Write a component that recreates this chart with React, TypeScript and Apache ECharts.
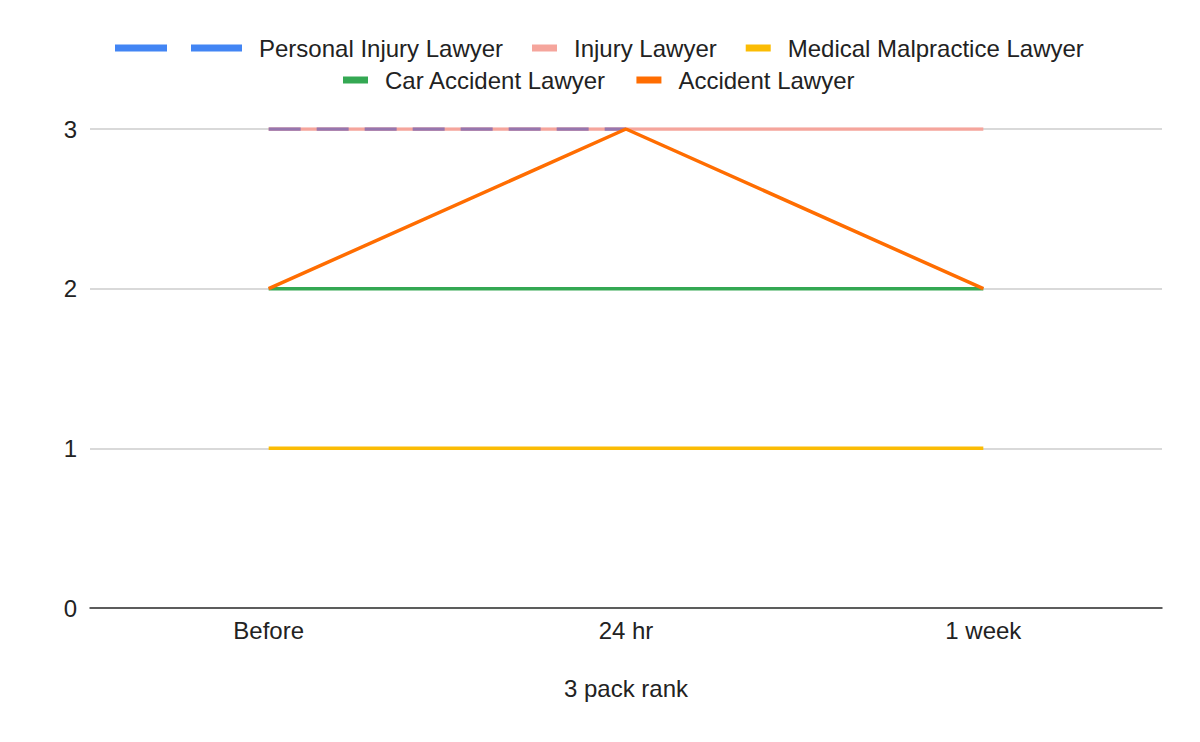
import React, { useEffect, useRef } from "react";
import * as echarts from "echarts";

const categories = ["Before", "24 hr", "1 week"];
const personalInjury = [3, 3, null];
const injury = [3, 3, 3];
const medicalMalpractice = [1, 1, 1];
const carAccident = [2, 2, 2];
const accident = [2, 3, 2];
const yTicks = [0, 1, 2, 3];

const FONT = "'Liberation Sans', Arial, sans-serif";
const TEXT = "#222222";
const LW = 3.5;

export default function App() {
  const ref = useRef<HTMLDivElement>(null);
  useEffect(() => {
    document.body.style.margin = "0";
    const chart = echarts.init(ref.current!, null, { renderer: "svg" });
    const legendText = {
      fontFamily: FONT,
      fontSize: 24,
      color: TEXT,
      lineHeight: 24,
      padding: [0, 0, 0, 12],
    };
    chart.setOption({
      animation: false,
      backgroundColor: "#ffffff",
      textStyle: { fontFamily: FONT },
      legend: [
        {
          left: 110,
          top: 31,
          itemWidth: 127,
          itemHeight: 7,
          icon: "path://M0,0h52v7h-52z M76,0h51v7h-51z",
          textStyle: legendText,
          selectedMode: false,
          data: [{ name: "Personal Injury Lawyer", itemStyle: { color: "#4285f4" } }],
        },
        {
          left: 527,
          top: 31,
          itemWidth: 25,
          itemHeight: 7,
          itemGap: 29,
          icon: "rect",
          textStyle: legendText,
          selectedMode: false,
          data: [
            { name: "Injury Lawyer", itemStyle: { color: "#f5a59c" } },
            { name: "Medical Malpractice Lawyer", itemStyle: { color: "#fbbc04" } },
          ],
        },
        {
          left: 338,
          top: 63,
          itemWidth: 25,
          itemHeight: 7,
          itemGap: 30,
          icon: "rect",
          textStyle: legendText,
          selectedMode: false,
          data: [
            { name: "Car Accident Lawyer", itemStyle: { color: "#34a853" } },
            { name: "Accident Lawyer", itemStyle: { color: "#ff6d01" } },
          ],
        },
      ],
      grid: { left: 90, right: 38, top: 129, bottom: 134, containLabel: false },
      xAxis: {
        type: "category",
        data: categories,
        boundaryGap: true,
        name: "3 pack rank",
        nameLocation: "middle",
        nameGap: 68,
        nameTextStyle: { fontFamily: FONT, fontSize: 24, color: TEXT },
        axisLine: { show: true, lineStyle: { color: "#333333", width: 1.5 } },
        axisTick: { show: false },
        axisLabel: { fontFamily: FONT, fontSize: 24, color: TEXT, margin: 10 },
        splitLine: { show: false },
      },
      yAxis: {
        type: "value",
        min: yTicks[0],
        max: yTicks[yTicks.length - 1],
        interval: 1,
        axisLine: { show: false },
        axisTick: { show: false },
        axisLabel: { fontFamily: FONT, fontSize: 24, color: TEXT, margin: 13 },
        splitLine: { show: true, lineStyle: { color: "#cccccc", width: 1.5 } },
      },
      series: [
        {
          name: "Injury Lawyer",
          type: "line",
          data: injury,
          symbol: "none",
          itemStyle: { color: "#f5a59c" },
          lineStyle: { color: "#f5a59c", width: LW },
          z: 2,
        },
        {
          name: "Personal Injury Lawyer",
          type: "line",
          data: personalInjury,
          symbol: "none",
          itemStyle: { color: "#4285f4" },
          lineStyle: { color: "#9676ae", width: LW, type: [32, 16] },
          z: 3,
        },
        {
          name: "Medical Malpractice Lawyer",
          type: "line",
          data: medicalMalpractice,
          symbol: "none",
          itemStyle: { color: "#fbbc04" },
          lineStyle: { color: "#fbbc04", width: LW },
          z: 4,
        },
        {
          name: "Car Accident Lawyer",
          type: "line",
          data: carAccident,
          symbol: "none",
          itemStyle: { color: "#34a853" },
          lineStyle: { color: "#34a853", width: LW },
          z: 5,
        },
        {
          name: "Accident Lawyer",
          type: "line",
          data: accident,
          symbol: "none",
          itemStyle: { color: "#ff6d01" },
          lineStyle: { color: "#ff6d01", width: LW },
          z: 6,
        },
      ],
    });
    return () => chart.dispose();
  }, []);
  return (
    <div
      ref={ref}
      style={{ position: "absolute", left: 0, top: 0, width: 1200, height: 742 }}
    />
  );
}
